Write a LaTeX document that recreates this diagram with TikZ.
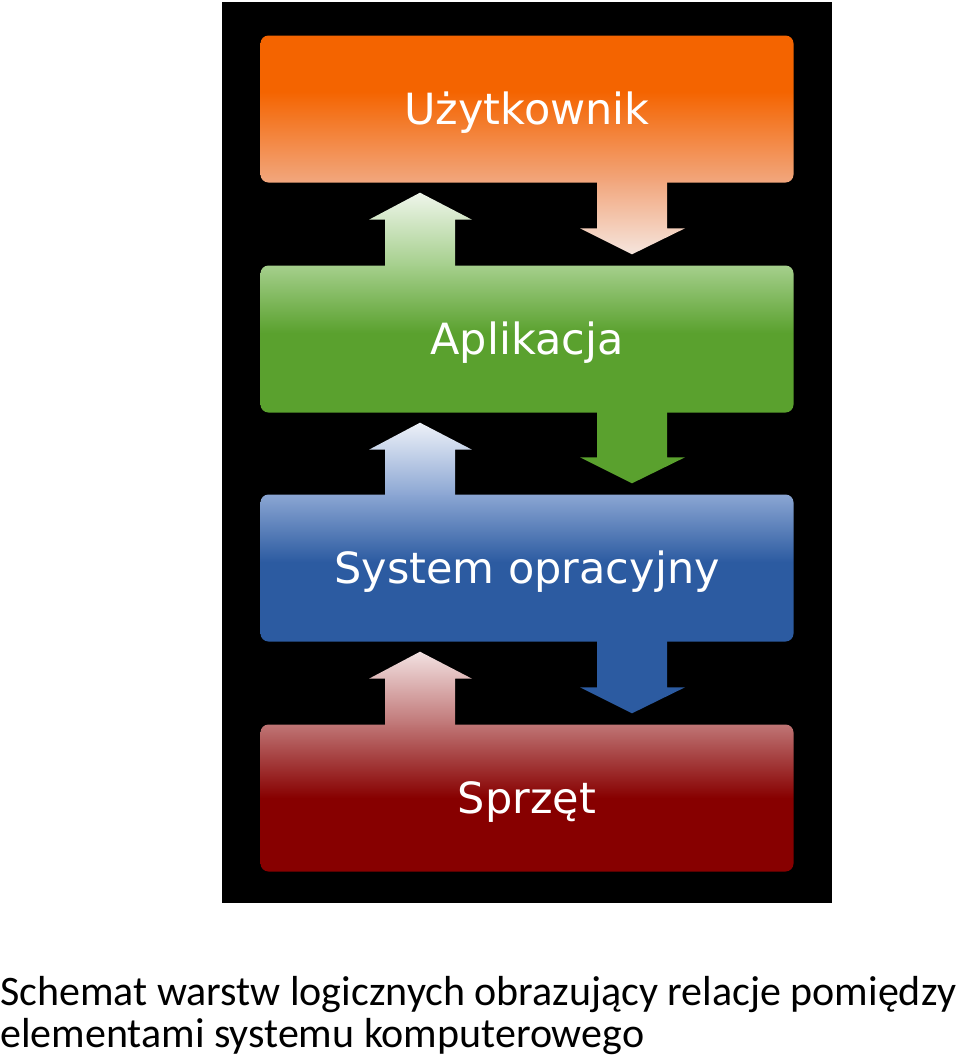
\documentclass[tikz,border=0pt]{standalone}
\usepackage{fontspec}
\newfontfamily\dejavu{DejaVu Sans}
\newfontfamily\carlito{Carlito}
\usetikzlibrary{calc}

% layer colours
\definecolor{otop}{HTML}{F46400}
\definecolor{obot}{HTML}{F2A77E}
\definecolor{gtop}{HTML}{A5CF8C}
\definecolor{gbot}{HTML}{5AA12E}
\definecolor{btop}{HTML}{8BA6D3}
\definecolor{bbot}{HTML}{2C5BA1}
\definecolor{rtop}{HTML}{BF7575}
\definecolor{rbot}{HTML}{870000}
\definecolor{ofade}{HTML}{F5E5DD}
\definecolor{gfade}{HTML}{EEF5EA}
\definecolor{bfade}{HTML}{EDF1F8}
\definecolor{rfade}{HTML}{F2E1E1}

\pgfdeclareverticalshading{orangelayer}{100bp}{color(0bp)=(obot); color(25bp)=(obot); color(56bp)=(otop); color(100bp)=(otop)}
\pgfdeclareverticalshading{greenlayer}{100bp}{color(0bp)=(gbot); color(25bp)=(gbot); color(52bp)=(gbot); color(75bp)=(gtop); color(100bp)=(gtop)}
\pgfdeclareverticalshading{bluelayer}{100bp}{color(0bp)=(bbot); color(25bp)=(bbot); color(52bp)=(bbot); color(75bp)=(btop); color(100bp)=(btop)}
\pgfdeclareverticalshading{redlayer}{100bp}{color(0bp)=(rbot); color(25bp)=(rbot); color(50bp)=(rbot); color(75bp)=(rtop); color(100bp)=(rtop)}

\tikzset{
  layer/.style={rounded corners=8pt, minimum width=533pt, minimum height=147pt,
    inner sep=0pt, text=white, font=\dejavu\fontsize{43}{50}\selectfont,
    text height=31pt, text depth=0pt},
  caption/.style={inner sep=0pt, anchor=base west, font=\carlito\fontsize{42}{42}\selectfont}
}

% block arrows between two layers: from, to, top colour, bottom colour
\newcommand{\arrdown}[4]{%
  \path[top color=#3, bottom color=#4]
    ($(#1.south)+(70,-1)$) -- ($(#2.north)+(70,-37)$) -- ($(#2.north)+(53,-37)$)
    -- ($(#2.north)+(105,-11)$) -- ($(#2.north)+(158,-37)$) -- ($(#2.north)+(140,-37)$)
    -- ($(#1.south)+(140,-1)$) -- cycle;}
\newcommand{\arrup}[4]{%
  \path[top color=#3, bottom color=#4]
    ($(#1.north)+(-142,1)$) -- ($(#2.south)+(-142,37)$) -- ($(#2.south)+(-158,37)$)
    -- ($(#2.south)+(-107,10)$) -- ($(#2.south)+(-55,37)$) -- ($(#2.south)+(-72,37)$)
    -- ($(#1.north)+(-72,1)$) -- cycle;}

\begin{document}
\begin{tikzpicture}[x=1pt, y=-1pt]
    \useasboundingbox (0,0) rectangle (960,1063);
    \fill[white] (0,0) rectangle (960,1063);
    \fill[black] (222,2) rectangle (832,903);

    \node[layer, shading=orangelayer] (user) at (527,109) {Użytkownik};
    \node[layer, shading=greenlayer] (app) at (527,339) {Aplikacja};
    \node[layer, shading=bluelayer] (os) at (527,568) {System opracyjny};
    \node[layer, shading=redlayer] (hw) at (527,798) {Sprzęt};

    \arrdown{user}{app}{obot}{ofade}
    \arrdown{app}{os}{gbot}{gbot}
    \arrdown{os}{hw}{bbot}{bbot}
    \arrup{app}{user}{gfade}{gtop}
    \arrup{os}{app}{bfade}{btop}
    \arrup{hw}{os}{rfade}{rtop}

    \node[caption] (capA) at (0,1005) {Schemat warstw logicznych obrazujący relacje pomiędzy};
    \node[caption] (capB) at (0,1047) {elementami systemu komputerowego};
\end{tikzpicture}
\end{document}
